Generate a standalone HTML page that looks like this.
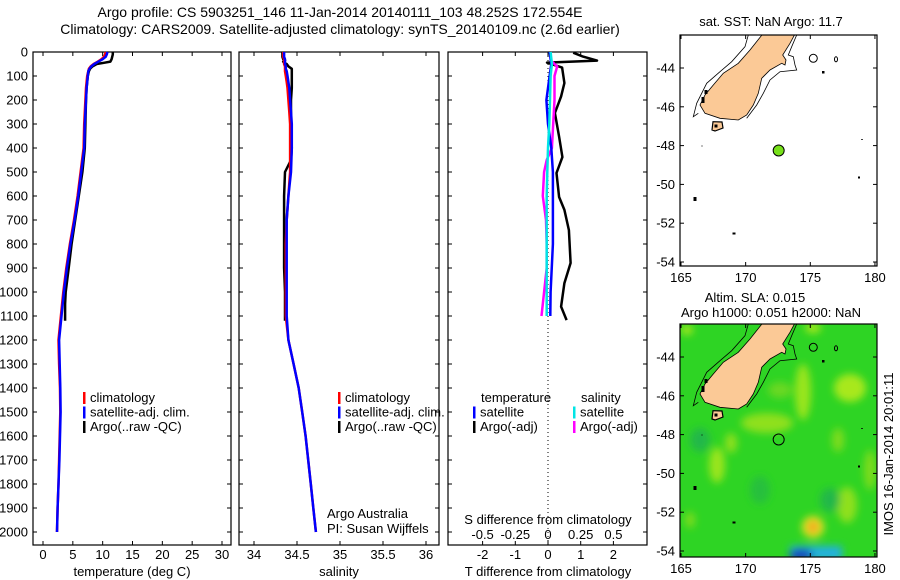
<!DOCTYPE html>
<html><head><meta charset="utf-8"><style>
html,body{margin:0;padding:0;background:#fff;}
svg{display:block;font-family:"Liberation Sans",sans-serif;}
text{fill:#000;}
</style></head><body>
<svg id="fig" width="900" height="580" viewBox="0 0 900 580">
<defs>
<filter id="blur" x="-50%" y="-50%" width="200%" height="200%"><feGaussianBlur stdDeviation="4"/></filter>
<clipPath id="clipMap1"><rect x="680" y="35" width="197" height="231"/></clipPath>
<clipPath id="clipMap2"><rect x="680" y="324" width="197" height="233"/></clipPath>
</defs>
<text x="340" y="17" font-size="14" text-anchor="middle">Argo profile: CS 5903251_146 11-Jan-2014 20140111_103 48.252S 172.554E</text>
<text x="340" y="34" font-size="14" text-anchor="middle">Climatology: CARS2009. Satellite-adjusted climatology: synTS_20140109.nc (2.6d earlier)</text>
<g id="axes"></g>
<g id="maps"></g>
</svg>
<script>
// ---- profile data ----
const depths = [0,10,20,30,40,50,60,70,80,100,125,150,200,250,300,400,500,600,700,800,900,1000,1100,1200,1300,1400,1500,1600,1700,1800,1900,2000];
const tempClim = [10.5,10.4,10.2,9.8,9.2,8.5,8.0,7.7,7.6,7.4,7.3,7.2,7.1,7.0,6.9,6.8,6.3,5.8,5.2,4.5,3.9,3.4,3.0,2.6,2.7,2.85,2.9,2.8,2.7,2.6,2.45,2.35];
const tempSat = [10.8,10.7,10.5,10.0,9.3,8.6,8.1,7.8,7.6,7.5,7.4,7.3,7.2,7.1,7.0,6.9,6.4,5.9,5.3,4.6,4.0,3.5,3.1,2.7,2.8,2.9,2.95,2.85,2.75,2.6,2.45,2.35];
const salClim = [34.34,34.34,34.34,34.35,34.35,34.35,34.36,34.36,34.36,34.37,34.38,34.39,34.40,34.41,34.42,34.42,34.42,34.40,34.38,34.37,34.37,34.37,34.37,34.40,34.46,34.52,34.56,34.60,34.63,34.66,34.69,34.72];
const salSat = [34.35,34.35,34.35,34.36,34.36,34.36,34.37,34.37,34.38,34.39,34.40,34.41,34.42,34.43,34.44,34.44,34.43,34.40,34.38,34.38,34.38,34.38,34.38,34.40,34.46,34.52,34.56,34.60,34.63,34.66,34.69,34.72];
const argoDepths = [0,10,20,30,35,40,45,50,60,70,80,100,150,200,300,400,450,500,600,700,800,900,1000,1050,1100,1120];
const tempArgo = [11.7,11.7,11.6,11.5,11.4,11.3,10.2,9.0,8.3,7.9,7.7,7.5,7.3,7.2,7.1,7.0,6.8,6.6,6.0,5.4,4.8,4.3,3.8,3.7,3.7,3.7];
const salArgo = [34.33,34.33,34.33,34.34,34.36,34.34,34.35,34.38,34.40,34.44,34.44,34.44,34.44,34.43,34.43,34.44,34.43,34.36,34.35,34.35,34.35,34.35,34.36,34.36,34.36,34.36];
const diffDepths = [3,19,36,44,65,129,185,254,353,438,504,604,658,742,879,963,1061,1117];
const tDiffArgo = [0.77,1.07,1.5,-0.03,0.43,0.5,0.4,0.21,0.34,0.44,0.26,0.34,0.5,0.64,0.69,0.5,0.4,0.57];
const satDiffDepths = [0,50,100,200,300,400,500,600,800,1000,1100];
const tDiffSat = [0.05,0.1,0.05,-0.05,0.0,0.1,0.15,0.15,0.15,0.08,0.07];
const sDiffSat = [0.02,0.03,0.02,0.015,0.01,0.0,-0.005,-0.01,-0.01,-0.01,-0.01];
const sArgoDepths = [40,60,100,200,300,400,450,500,600,700,800,900,1000,1100];
const sDiffArgo = [0.03,0.07,0.05,0.05,0.04,0.03,-0.01,-0.03,-0.04,-0.015,-0.01,-0.01,-0.03,-0.05];
const depthTicks = [0,100,200,300,400,500,600,700,800,900,1000,1100,1200,1300,1400,1500,1600,1700,1800,1900,2000];
const tempTicks = [0,5,10,15,20,25,30];
const salTicks = [34,34.5,35,35.5,36];
const tdTicks = [-2,-1,0,1,2];
const sdTicks = [-0.5,-0.25,0,0.25,0.5];
const sdTickLabels = ["-0.5","-0.25","0","0.25","0.5"];

const NS="http://www.w3.org/2000/svg";
const FS=13;
const yD = d => 52 + d*0.24;
const xT = t => 43 + t*5.967;
const xS = s => 254 + (s-34)*86;
const xTD = t => 548 + t*32.7;
const xSD = s => 548 + s*4*32.7;
const G=document.getElementById('axes');
function mk(tag,attrs,parent,txt){const e=document.createElementNS(NS,tag);for(const k in attrs)e.setAttribute(k,attrs[k]);if(txt!==undefined)e.textContent=txt;(parent||G).appendChild(e);return e;}

const panels=[{x0:33,x1:231,name:'temperature-panel'},{x0:239,x1:439,name:'salinity-panel'},{x0:448,x1:647,name:'difference-panel'}];
panels.forEach(p=>{
  const r=mk('rect',{x:p.x0,y:52,width:p.x1-p.x0,height:493,fill:'none',stroke:'#000','stroke-width':1.2});
  
  
});
depthTicks.forEach(d=>{
  const t=mk('text',{x:28,y:yD(d)+4.5,'font-size':FS,'text-anchor':'end'},G,String(d));
  
  
  panels.forEach(p=>{mk('line',{x1:p.x0,x2:p.x0+4,y1:yD(d),y2:yD(d),stroke:'#000'});mk('line',{x1:p.x1,x2:p.x1-4,y1:yD(d),y2:yD(d),stroke:'#000'});});
});
function xTicks(vals,fx,labels,y,bottom){
  vals.forEach((v,i)=>{
    const x=fx(v);
    if(bottom){mk('line',{x1:x,x2:x,y1:545,y2:541,stroke:'#000'});mk('line',{x1:x,x2:x,y1:52,y2:56,stroke:'#000'});}
    const t=mk('text',{x:x,y:y,'font-size':FS,'text-anchor':'middle'},G,labels?labels[i]:String(v));
    
    
  });
}
xTicks(tempTicks,xT,null,559,true);
xTicks(salTicks,xS,null,559,true);
xTicks(tdTicks,xTD,null,559,true);
xTicks(sdTicks,xSD,sdTickLabels,539,false);
[['temperature (deg C)',132,'temperature-axis-title'],['salinity',339,'salinity-axis-title'],['T difference from climatology',548,'t-difference-axis-title']].forEach(a=>{
  const t=mk('text',{x:a[1],y:576,'font-size':FS,'text-anchor':'middle'},G,a[0]);
  
  
});
const st=mk('text',{x:548,y:524,'font-size':FS,'text-anchor':'middle'},G,'S difference from climatology');


const zl=mk('line',{x1:548,x2:548,y1:52,y2:545,stroke:'#000','stroke-dasharray':'1 3'});



function line(xs,ds,fx,color,name,w){
  const pts=xs.map((v,i)=>fx(v).toFixed(1)+','+yD(ds[i]).toFixed(1)).join(' ');
  const e=mk('polyline',{points:pts,fill:'none',stroke:color,'stroke-width':w||2.5,'stroke-linejoin':'round'});
  
  
}
line(tempArgo,argoDepths,xT,'#000','temp-argo-line');
line(tempClim,depths,xT,'#ff0000','temp-climatology-line');
line(tempSat,depths,xT,'#0000ff','temp-satellite-line');
line(salArgo,argoDepths,xS,'#000','sal-argo-line');
line(salClim,depths,xS,'#ff0000','sal-climatology-line');
line(salSat,depths,xS,'#0000ff','sal-satellite-line');
line(tDiffArgo,diffDepths,xTD,'#000','tdiff-argo-line');
line(sDiffArgo,sArgoDepths,xSD,'#ff00ff','sdiff-argo-line');
line(tDiffSat,satDiffDepths,xTD,'#0000ff','tdiff-satellite-line');
line(sDiffSat,satDiffDepths,xSD,'#00e5e5','sdiff-satellite-line');

function legend(x,y,color,label,name){
  const m=mk('rect',{x:x,y:y-10,width:2.5,height:12,fill:color});
  
  
  const t=mk('text',{x:x+7,y:y,'font-size':FS},G,label);
  
  
}
[[83,'climatology','#ff0000'],[83,'satellite-adj. clim.','#0000ff'],[83,'Argo(..raw -QC)','#000']].forEach((l,i)=>legend(l[0],402+i*14.5,l[2],l[1],'temp-legend-entry'));
[[338,'climatology','#ff0000'],[338,'satellite-adj. clim.','#0000ff'],[338,'Argo(..raw -QC)','#000']].forEach((l,i)=>legend(l[0],402+i*14.5,l[2],l[1],'sal-legend-entry'));
let lt=mk('text',{x:481,y:402,'font-size':FS},G,'temperature');


lt=mk('text',{x:581,y:402,'font-size':FS},G,'salinity');


legend(473,416.5,'#0000ff','satellite','diff-legend-t-satellite');
legend(473,431,'#000','Argo(-adj)','diff-legend-t-argo');
legend(573,416.5,'#00e5e5','satellite','diff-legend-s-satellite');
legend(573,431,'#ff00ff','Argo(-adj)','diff-legend-s-argo');
lt=mk('text',{x:327,y:518,'font-size':FS},G,'Argo Australia');


lt=mk('text',{x:327,y:533,'font-size':FS},G,'PI: Susan Wijffels');



// ---- maps ----
const latTicks=[-44,-46,-48,-50,-52,-54];
const lonTicks=[165,170,175,180];
const argoLon=172.554, argoLat=-48.252;
const M=document.getElementById('maps');
const mlon=l=>681+(l-165)*12.93;
const landPts=[[762.7,34],[750,50],[738.3,63.3],[723.3,73.3],[713.3,85],[705,95],[700,105],[705,113.3],[720,118.3],[738.3,120],[746.7,115],[753.3,105],[758.3,93.3],[761.7,78.3],[770,70],[781.7,63.3],[785,65],[786,60],[782.7,55],[790,43.3],[795,34]];
const stewart=[[713,121.7],[722,122],[723,128],[715,131],[712,130]];
const shelfE=[[796.7,35],[791.7,46.7],[788.3,55],[793.3,56.7],[795,65],[796.7,70],[780,71.7],[770,80],[763.3,93.3],[756.7,105],[746.7,118.3]];
const shelfW=[[748.3,35],[745,46.7],[731.7,61.7],[720,71.7],[706.7,83.3],[696.7,103.3],[693.3,116.7],[698.3,113.3]];
function P(arr,dy){return arr.map(p=>p[0]+','+(p[1]+dy)).join(' ');}
function drawMap(top,dy,clip,name,bg){
  const g=mk('g',{'clip-path':'url(#'+clip+')'},M);
  
  
  if(bg) bg(g);
  mk('polyline',{points:P(shelfE,dy),fill:'none',stroke:'#000','stroke-width':0.8},g);
  mk('polyline',{points:P(shelfW,dy),fill:'none',stroke:'#000','stroke-width':0.8},g);
  const land=mk('polygon',{points:P(landPts,dy),fill:'#fbc996',stroke:'#000','stroke-width':0.8},g);
  
  
  mk('polygon',{points:P(stewart,dy),fill:'#fbc996',stroke:'#000','stroke-width':1.2},g);
  mk('ellipse',{cx:813.3,cy:58.3+dy,rx:4,ry:4,fill:'none',stroke:'#000'},g);
  mk('ellipse',{cx:836,cy:59.3+dy,rx:1.5,ry:2.5,fill:'none',stroke:'#000'},g);
  mk('rect',{x:822,y:71+dy,width:2.5,height:2.5,fill:'#000'},g);
  [[703,100,3,6],[706,92,3,4],[716,126,3,3],[695,199,3,4],[734,233.5,3,2],[859,177.5,2,2],[862,139.5,1.5,1],[702,146,1,1]].forEach(d=>mk('rect',{x:d[0]-d[2]/2,y:d[1]+dy-d[3]/2,width:d[2],height:d[3],fill:'#000'},g));
  mk('rect',{x:680,y:top,width:197,height:(dy?233:231),fill:'none',stroke:'#000','stroke-width':1.2},M);
  const bottom=top+(dy?233:231);
  latTicks.forEach(l=>{const y=68+(-44-l)*19.4+dy;
    mk('line',{x1:680,x2:684,y1:y,y2:y,stroke:'#000'},M);mk('line',{x1:877,x2:873,y1:y,y2:y,stroke:'#000'},M);
    const t=mk('text',{x:675,y:y+4.5,'font-size':FS,'text-anchor':'end'},M,String(l));
    
    });
  lonTicks.forEach(l=>{const x=mlon(l);
    mk('line',{x1:x,x2:x,y1:top,y2:top+4,stroke:'#000'},M);mk('line',{x1:x,x2:x,y1:bottom,y2:bottom-4,stroke:'#000'},M);
    const t=mk('text',{x:x,y:bottom+16,'font-size':FS,'text-anchor':'middle'},M,String(l));
    
    });
}
drawMap(35,0,'clipMap1','sst-map',null);
const dot=mk('circle',{cx:mlon(argoLon),cy:68+(-44-argoLat)*19.4,r:5.5,fill:'#77e01a',stroke:'#000','stroke-width':1},M);


drawMap(324,289,'clipMap2','sla-map',g=>{
  mk('rect',{x:680,y:324,width:197,height:233,fill:'#2ed424'},g);
  const b=mk('g',{filter:'url(#blur)'},g);
  [[803,392,8,28,'#9ae51c'],[850,388,16,14,'#a8e81c'],[767,423,26,10,'#8fe01e'],[717,465,8,18,'#9ae51c'],[731,443,6,10,'#8fe01e'],[847,505,10,18,'#8fe01e'],[687,330,6,5,'#a8e81c'],[813,328,8,5,'#a8e81c'],[838,440,6,12,'#7fdc1e'],[690,520,5,8,'#7fdc1e'],[830,500,10,12,'#22b84a'],[700,440,10,12,'#22b84a'],[760,490,10,14,'#28c03c'],[780,390,12,8,'#6ad820'],[870,470,6,20,'#7fdc1e']].forEach(e=>mk('ellipse',{cx:e[0],cy:e[1],rx:e[2],ry:e[3],fill:e[4]},b));
  mk('ellipse',{cx:813,cy:527,rx:11,ry:11,fill:'#e8e020'},b);
  mk('ellipse',{cx:813,cy:527,rx:5,ry:6,fill:'#f0a020'},b);
  mk('rect',{x:790,y:546,width:52,height:14,fill:'#20b0e0'},b);
  mk('ellipse',{cx:801,cy:555,rx:12,ry:6,fill:'#1840c0'},b);
});
const ring=mk('circle',{cx:mlon(argoLon),cy:68+(-44-argoLat)*19.4+289,r:5.5,fill:'none',stroke:'#000','stroke-width':1},M);


[['sat. SST: NaN Argo: 11.7',771,26,'sst-map-title'],['Altim. SLA: 0.015',755,302,'sla-map-title-1'],['Argo h1000: 0.051 h2000: NaN',771,317,'sla-map-title-2']].forEach(a=>{
  const t=mk('text',{x:a[1],y:a[2],'font-size':FS,'text-anchor':'middle'},M,a[0]);
  
  
});
const im=mk('text',{x:0,y:0,'font-size':FS,'text-anchor':'middle',transform:'translate(893,454) rotate(-90)'},M,'IMOS 16-Jan-2014 20:01:11');


</script>
</body></html>
